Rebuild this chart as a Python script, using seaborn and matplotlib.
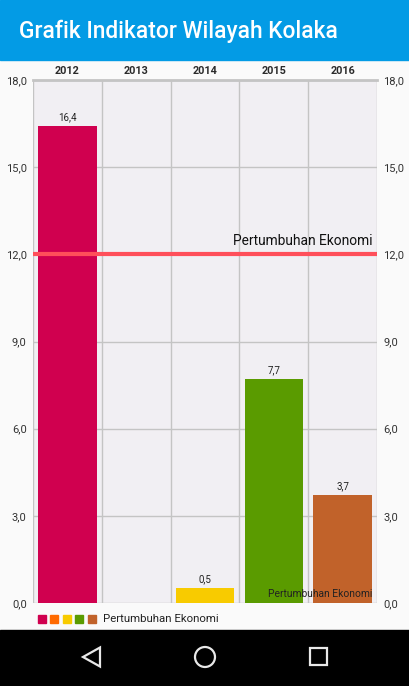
import numpy as np
import pandas as pd
import matplotlib
matplotlib.use("Agg")
import matplotlib.pyplot as plt
import seaborn as sns
from matplotlib.patches import Rectangle, Circle, Polygon
from matplotlib.ticker import FuncFormatter
from matplotlib.transforms import Affine2D, blended_transform_factory

# ---------------- data ----------------
years = ["2012", "2013", "2014", "2015", "2016"]
values = [16.4, np.nan, 0.5, 7.7, 3.7]
colors = ["#D0004F", "#FF6A00", "#F8CB00", "#5A9B00", "#C1622A"]
series_name = "Pertumbuhan Ekonomi"
limit_value = 12.0
limit_label = "Pertumbuhan Ekonomi"
description = "Pertumbuhan Ekonomi"
title = "Grafik Indikator Wilayah Kolaka"
y_ticks = [0, 3, 6, 9, 12, 15, 18]

sns.set_theme(style="white")
plt.rcParams['font.family'] = ['Roboto', 'DejaVu Sans']

W, H = 410, 686
fig = plt.figure(figsize=(W / 100, H / 100), dpi=100)
fig.patch.set_facecolor("#FAFAFA")
px = Affine2D().scale(1, -1).translate(0, H) + Affine2D().scale(1 / 100) + fig.dpi_scale_trans

# header bar
fig.add_artist(Rectangle((0, 0), W, 60, transform=px, color="#039BE5", zorder=0))
fig.text(19 / W, 1 - 31 / H, title, color="white", fontsize=16.4, va="center", ha="left",
         fontweight="medium")

# navigation bar
fig.add_artist(Rectangle((0, 630), W, 56, transform=px, color="black", zorder=0))
nav_col = "#E8E8E8"
fig.add_artist(Polygon([(83, 657), (100, 647.5), (100, 666.5)], closed=True, fill=False,
                       transform=px, ec=nav_col, lw=1.6))
fig.add_artist(Circle((205, 657), 10, fill=False, transform=px, ec=nav_col, lw=1.6))
fig.add_artist(Rectangle((310, 648), 17, 17, fill=False, transform=px, ec=nav_col, lw=1.6))

# ---------------- chart ----------------
ax = fig.add_axes([33 / W, 1 - 603 / H, (377 - 33) / W, (603 - 80) / H])
df = pd.DataFrame({"Tahun": years, "Nilai": values})
sns.barplot(data=df, x="Tahun", y="Nilai", hue="Tahun", order=years, hue_order=years,
            palette=colors, width=0.85, saturation=1, legend=False, errorbar=None,
            linewidth=0, edgecolor="none", ax=ax, zorder=2)
ax.set_facecolor("#F1EFF3")
ax.set_xlim(-0.5, len(years) - 0.5)
ax.set_ylim(0, 18)
ax.set_xlabel("")
ax.set_ylabel("")

ax.set_yticks(y_ticks)
ax.yaxis.set_major_formatter(FuncFormatter(lambda v, p: f"{v:.1f}".replace(".", ",")))
ax.tick_params(axis="y", length=0, left=False, right=False, labelleft=True, labelright=True,
               labelsize=8, pad=4.5, labelcolor="#333333")
ax.set_xticks(range(len(years)))
ax.set_xticklabels(years, fontweight="semibold")
ax.xaxis.tick_top()
ax.tick_params(axis="x", which="both", length=0, top=False, bottom=False, labeltop=True,
               labelbottom=False, labelsize=7.8, pad=3, labelcolor="#2A2A2A")
ax.set_xticks(np.arange(-0.5, len(years), 1), minor=True)
ax.grid(False)
ax.grid(which="minor", axis="x", color="#C4C4C4", lw=1)
ax.grid(which="major", axis="y", color="#C4C4C4", lw=1)
ax.set_axisbelow(True)
for s in ["left", "right", "bottom"]:
    ax.spines[s].set_visible(False)
ax.spines["top"].set_color("#C4C4C4")
ax.spines["top"].set_linewidth(2)

# value labels
for i, v in enumerate(values):
    if not np.isnan(v):
        ax.annotate(f"{v:.1f}".replace(".", ","), (i, v), xytext=(0, 3),
                    textcoords="offset points", ha="center", va="bottom", fontsize=7,
                    color="#222222")

# limit line
ax.axhline(limit_value, color="#FF4F5A", lw=3, zorder=3)
tr = blended_transform_factory(ax.transAxes, ax.transData)
ax.annotate(limit_label, (1, limit_value), xycoords=tr, xytext=(-3, 4.5),
            textcoords="offset points", ha="right", va="bottom", fontsize=9.9, color="#111111",
            zorder=4)

# description
ax.annotate(description, (1, 0), xycoords="axes fraction", xytext=(-3.6, 6.5),
            textcoords="offset points", ha="right", va="center", fontsize=7.4, color="#222222",
            zorder=4)

# legend
for k, c in enumerate(colors):
    fig.add_artist(Rectangle((38 + k * 12.4, 615), 8, 8, transform=px, color=c))
fig.text(103 / W, 1 - 619 / H, series_name, fontsize=8.2, va="center", ha="left", color="#222222")

fig.savefig("out.png", dpi=100)
